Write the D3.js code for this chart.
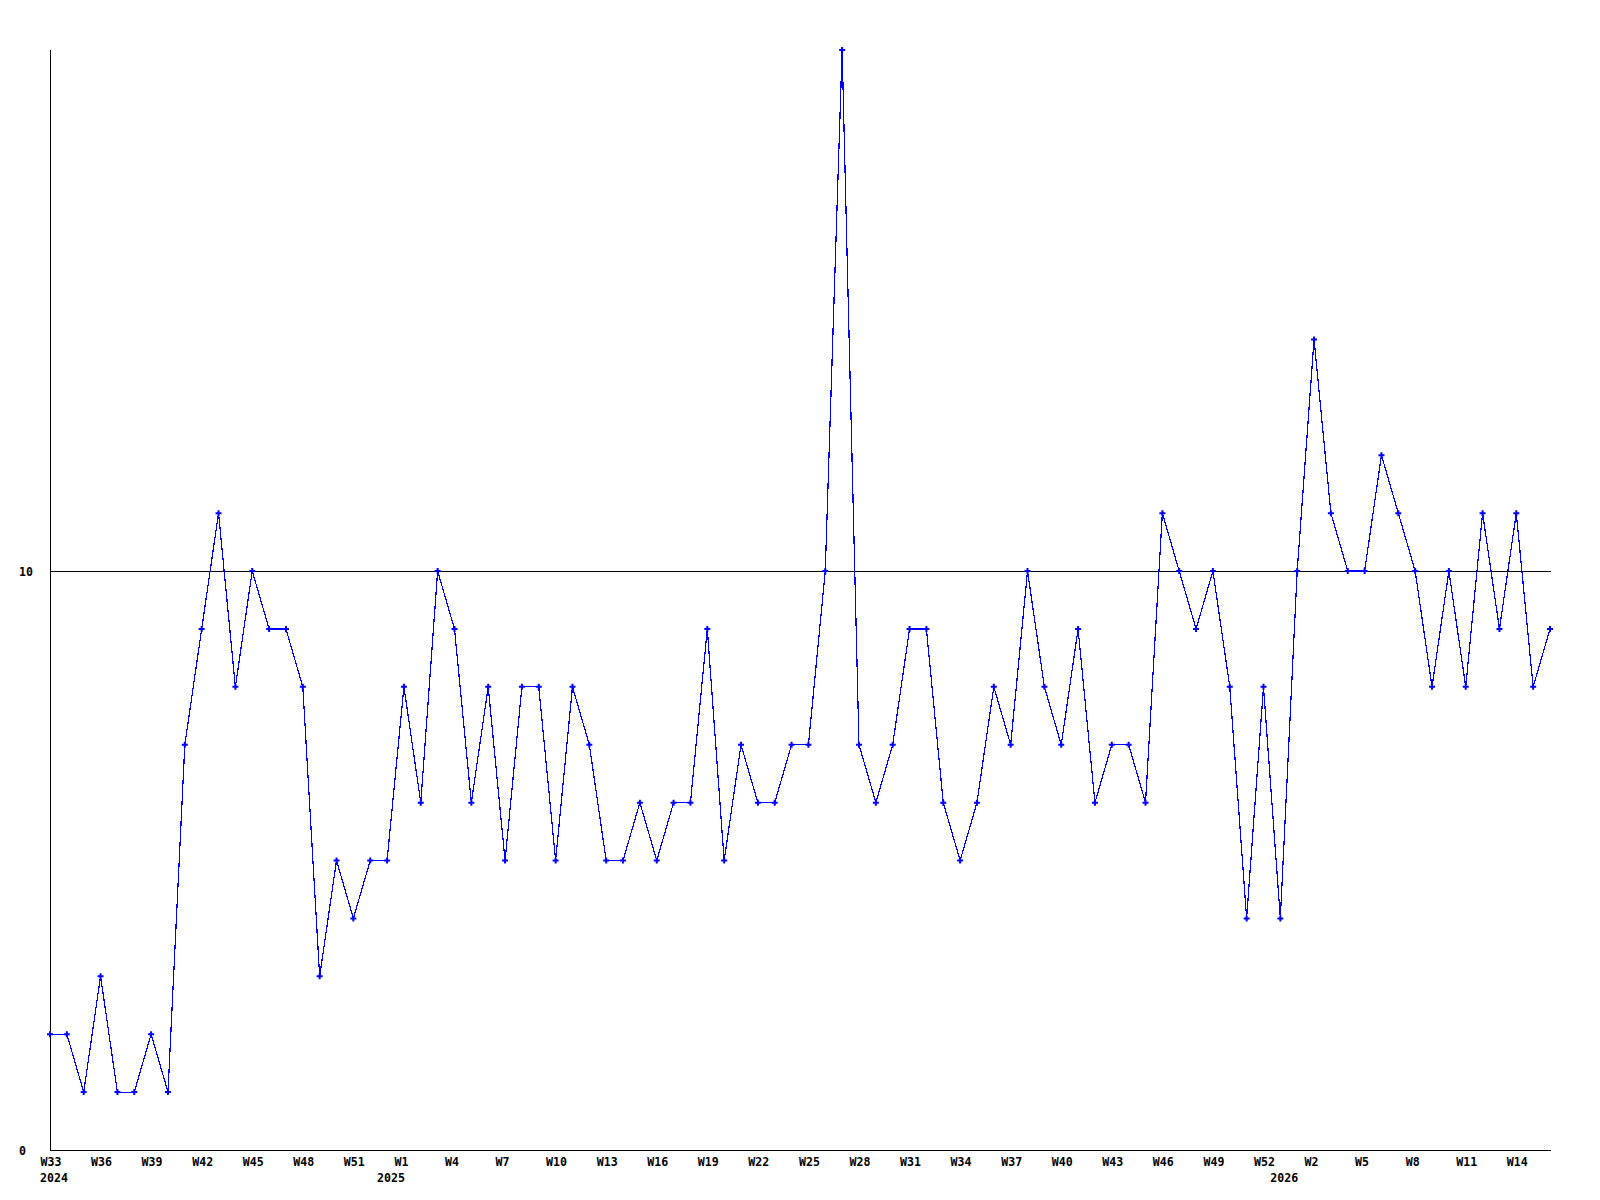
<!DOCTYPE html>
<html>
<head>
<meta charset="utf-8">
<script src="https://cdn.jsdelivr.net/npm/d3@7"></script>
<style>
  body { margin: 0; background: #fff; }
  .axis text { font-family: "DejaVu Sans Mono", monospace; font-weight: bold; font-size: 11.6px; fill: #000; }
  .yr { font-family: "DejaVu Sans Mono", monospace; font-weight: bold; font-size: 11.6px; fill: #000; }
</style>
</head>
<body>
<div id="canvas"></div>
<script>
// one point per week, year-week
var weeks = [
  '2024-W33','2024-W34','2024-W35','2024-W36','2024-W37','2024-W38','2024-W39','2024-W40','2024-W41','2024-W42',
  '2024-W43','2024-W44','2024-W45','2024-W46','2024-W47','2024-W48','2024-W49','2024-W50','2024-W51','2024-W52',
  '2025-W0','2025-W1','2025-W2','2025-W3','2025-W4','2025-W5','2025-W6','2025-W7','2025-W8','2025-W9',
  '2025-W10','2025-W11','2025-W12','2025-W13','2025-W14','2025-W15','2025-W16','2025-W17','2025-W18','2025-W19',
  '2025-W20','2025-W21','2025-W22','2025-W23','2025-W24','2025-W25','2025-W26','2025-W27','2025-W28','2025-W29',
  '2025-W30','2025-W31','2025-W32','2025-W33','2025-W34','2025-W35','2025-W36','2025-W37','2025-W38','2025-W39',
  '2025-W40','2025-W41','2025-W42','2025-W43','2025-W44','2025-W45','2025-W46','2025-W47','2025-W48','2025-W49',
  '2025-W50','2025-W51','2025-W52',
  '2026-W0','2026-W1','2026-W2','2026-W3','2026-W4','2026-W5','2026-W6','2026-W7','2026-W8','2026-W9',
  '2026-W10','2026-W11','2026-W12','2026-W13','2026-W14','2026-W15','2026-W16'
];
var values = [
  2, 2, 1, 3, 1, 1, 2, 1, 7, 9,
  11, 8, 10, 9, 9, 8, 3, 5, 4, 5,
  5, 8, 6, 10, 9, 6, 8, 5, 8, 8,
  5, 8, 7, 5, 5, 6, 5, 6, 6, 9,
  5, 7, 6, 6, 7, 7, 10, 19, 7, 6,
  7, 9, 9, 6, 5, 6, 8, 7, 10, 8,
  7, 9, 6, 7, 7, 6, 11, 10, 9, 10,
  8, 4, 8,
  4, 10, 14, 11, 10, 10, 12, 11, 10, 8,
  10, 8, 11, 9, 11, 8, 9
];
var yTicks = [0, 10];
var labelEvery = 3;

var m = {t:50, r:49, b:50, l:50},
    w = 1600 - m.l - m.r,
    h = 1200 - m.t - m.b;

var svg = d3.select('#canvas')
    .append('svg')
    .attr('width', 1600)
    .attr('height', 1200);
var plot = svg.append('g')
    .attr('transform','translate('+ m.l+','+ m.t+')');

// Scale
var scaleX = d3.scaleLinear()
    .domain([0, weeks.length - 1])
    .range([0, w - 1]);
var scaleY = d3.scaleLinear()
    .domain([0, 19])
    .range([h, 0]);

// y axis with the gridline at 10
var axisY = d3.axisLeft()
    .scale(scaleY)
    .tickValues(yTicks)
    .tickFormat(d3.format('d'))
    .tickSize(-w);
var gy = plot.append('g').attr('class','axis axis-y').call(axisY);
gy.select('.domain').remove();
gy.selectAll('line')
    .attr('stroke','#000')
    .attr('shape-rendering','crispEdges');
gy.selectAll('text')
    .attr('text-anchor','start')
    .attr('x', -31)
    .attr('dy','0.35em');

// x axis labels, every 3rd week
var tickIdx = d3.range(0, weeks.length, labelEvery);
var axisX = d3.axisBottom()
    .scale(scaleX)
    .tickValues(tickIdx)
    .tickFormat(function(i){ return weeks[i].split('-')[1]; })
    .tickSize(0);
var gx = plot.append('g').attr('class','axis axis-x')
    .attr('transform','translate(0,'+h+')')
    .call(axisX);
gx.select('.domain').remove();
gx.selectAll('text')
    .attr('text-anchor','start')
    .attr('x', -10)
    .attr('y', 16)
    .attr('dy', 0);

// year labels at first point and at each year change
var yearIdx = weeks.map(function(d,i){ return i; }).filter(function(i){
    return i === 0 || weeks[i].slice(0,4) !== weeks[i-1].slice(0,4);
});
plot.selectAll('.yr')
    .data(yearIdx)
    .enter()
    .append('text')
    .attr('class','yr')
    .attr('x', function(i){ return scaleX(i) - 10; })
    .attr('y', h + 32)
    .text(function(i){ return weeks[i].slice(0,4); });

// frame lines
plot.append('line')
    .attr('x1',0).attr('x2',0).attr('y1',0).attr('y2',h)
    .attr('stroke','#000').attr('shape-rendering','crispEdges');
plot.append('line')
    .attr('x1',0).attr('x2',w).attr('y1',h).attr('y2',h)
    .attr('stroke','#000').attr('shape-rendering','crispEdges');

// data line
var line = d3.line()
    .x(function(d,i){ return scaleX(i); })
    .y(function(d){ return scaleY(d); });
plot.append('path')
    .datum(values)
    .attr('d', line)
    .attr('fill','none')
    .attr('stroke','#0000ff')
    .attr('stroke-width',1.2)
    .attr('shape-rendering','crispEdges');

plot.selectAll('.pt')
    .data(values)
    .enter()
    .append('path')
    .attr('class','pt')
    .attr('d', d3.symbol(d3.symbolCross, 20))
    .attr('transform', function(d,i){ return 'translate('+scaleX(i)+','+scaleY(d)+')'; })
    .attr('fill','#0000ff');
</script>
</body>
</html>
